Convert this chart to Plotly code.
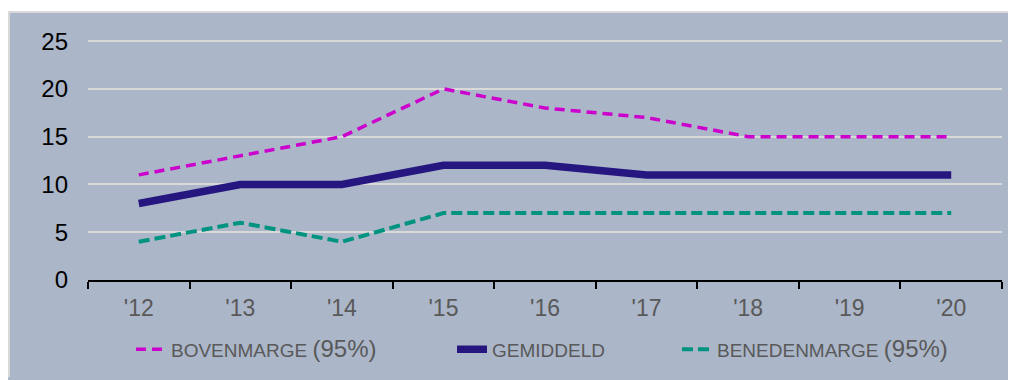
import plotly.graph_objects as go

years = ["'12", "'13", "'14", "'15", "'16", "'17", "'18", "'19", "'20"]
bovenmarge = [11, 13, 15, 20, 18, 17, 15, 15, 15]
gemiddeld = [8, 10, 10, 12, 12, 11, 11, 11, 11]
benedenmarge = [4, 6, 4, 7, 7, 7, 7, 7, 7]
y_ticks = [0, 5, 10, 15, 20, 25]

BG = "#ABB6C9"
fig = go.Figure()
fig.add_trace(go.Scatter(
    x=years, y=bovenmarge, mode="lines", legend="legend",
    name='BOVENMARGE <span style="font-size:24px">(95%)</span>',
    line=dict(color="#CC00CC", width=3.5, dash="10px,6px")))
fig.add_trace(go.Scatter(
    x=years, y=gemiddeld, mode="lines", name="GEMIDDELD", legend="legend2",
    line=dict(color="#261780", width=7.5)))
fig.add_trace(go.Scatter(
    x=years, y=benedenmarge, mode="lines", legend="legend3",
    name='BENEDENMARGE <span style="font-size:24px">(95%)</span>',
    line=dict(color="#009480", width=4, dash="11px,5px")))

W, H = 1008, 372
L, R, T, B = 80, 14, 14, 98
pw, ph = W - L - R, H - T - B


def px_x(v):
    return (v - L) / pw


def px_y(v):
    return (H - B - v) / ph


# white band at top and light-grey frame edges (top and left)
fig.add_shape(type="rect", xref="paper", yref="paper", layer="below",
              x0=px_x(0), x1=px_x(W), y0=px_y(3), y1=px_y(0),
              fillcolor="white", line=dict(width=0))
fig.add_shape(type="line", xref="paper", yref="paper", layer="below",
              x0=px_x(0), x1=px_x(W), y0=px_y(4), y1=px_y(4),
              line=dict(color="#D9D9D9", width=2))
fig.add_shape(type="line", xref="paper", yref="paper", layer="below",
              x0=px_x(1), x1=px_x(1), y0=px_y(H), y1=px_y(3),
              line=dict(color="#D9D9D9", width=2))

leg_common = dict(orientation="h", y=px_y(344), yanchor="middle", xanchor="left",
                  bgcolor="rgba(0,0,0,0)", font=dict(size=19, color="#595959"))

fig.update_layout(
    width=W, height=H,
    margin=dict(l=L, r=R, t=T, b=B),
    paper_bgcolor=BG, plot_bgcolor="rgba(0,0,0,0)",
    font=dict(family="Liberation Sans, Arial, sans-serif"),
    showlegend=True,
    legend=dict(x=px_x(123), **leg_common),
    legend2=dict(x=px_x(444), **leg_common),
    legend3=dict(x=px_x(669), **leg_common),
    xaxis=dict(type="category", categoryarray=years, range=[-0.5, 8.5],
               tickson="boundaries", ticks="outside", ticklen=7, tickwidth=2, tickcolor="black",
               showline=True, linecolor="black", linewidth=2,
               showgrid=False, zeroline=False,
               tickfont=dict(size=23, color="#595959"), ticklabelstandoff=6),
    xaxis2=dict(overlaying="x", anchor="y", range=[-0.5, 8.5], tick0=-0.5, dtick=1,
                ticks="inside", ticklen=7, tickwidth=2, tickcolor="black",
                showticklabels=False, showgrid=False, zeroline=False, showline=False,
                side="bottom"),
    yaxis=dict(range=[0, 27], tickvals=y_ticks, showgrid=True, gridcolor="#D9D9D9", gridwidth=2,
               zeroline=False, showline=False, ticks="",
               tickfont=dict(size=24, color="black"), ticklabelstandoff=19),
)

fig.write_html("out.html", post_script="document.body.style.overflow='hidden';")
